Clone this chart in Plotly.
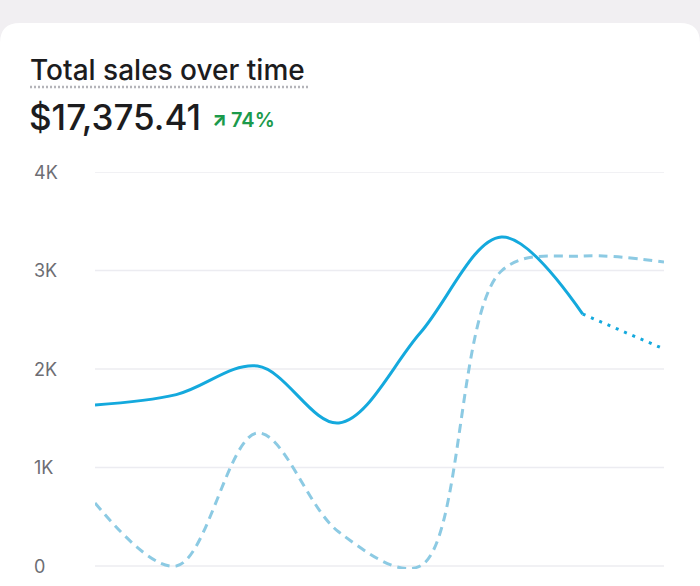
import plotly.graph_objects as go

# ---- data ----
periods = ["P1", "P2", "P3", "P4", "P5", "P6", "P7", "P8"]
current_sales = [1635, 1740, 2030, 1452, 2365, 3340, 2558, 2203]   # last point is projected (dotted)
previous_sales = [640, 0, 1350, 345, 0, 2995, 3147, 3086]
y_tickvals = [0, 1000, 2000, 3000, 4000]
y_ticktext = ["0", "1K", "2K", "3K", "4K"]
title_text = "Total sales over time"
total_text = "$17,375.41"
change_text = "74%"

W, H = 700, 586
ML, MR, MT, MB = 95, 36, 172, 17
Y_MIN, Y_MAX = -30.5, 4000
PW, PH = W - ML - MR, H - MT - MB


def px(x):
    return (x - ML) / PW


def py(y):
    return (H - MB - y) / PH


SOLID = "#14a9dd"
DASHED = "#8ccae3"
FONT = "Inter, Roboto, sans-serif"

n_solid = len(current_sales) - 1

fig = go.Figure()
# previous period (dashed)
fig.add_trace(go.Scatter(
    x=periods, y=previous_sales, mode="lines",
    line=dict(color=DASHED, width=3, dash="9px,6px", shape="spline"),
    hoverinfo="skip", showlegend=False))
# current period projected part (dotted)
fig.add_trace(go.Scatter(
    x=periods[n_solid - 1:], y=current_sales[n_solid - 1:], mode="lines",
    line=dict(color=SOLID, width=3, dash="3px,6px", shape="spline"),
    hoverinfo="skip", showlegend=False))
# current period solid part
fig.add_trace(go.Scatter(
    x=periods[:n_solid], y=current_sales[:n_solid], mode="lines",
    line=dict(color=SOLID, width=3, shape="spline"),
    hoverinfo="skip", showlegend=False))

# card background
r = 20
x0, x1, y0 = 0, 700, 23
card = (f"M {px(x0)},{py(y0 + r)} Q {px(x0)},{py(y0)} {px(x0 + r)},{py(y0)} "
        f"L {px(x1 - r)},{py(y0)} Q {px(x1)},{py(y0)} {px(x1)},{py(y0 + r)} "
        f"L {px(x1)},{py(H + 10)} L {px(x0)},{py(H + 10)} Z")
shapes = [
    dict(type="path", path=card, xref="paper", yref="paper",
         fillcolor="white", line=dict(width=0), layer="below"),
    dict(type="line", xref="paper", yref="paper",
         x0=px(30), x1=px(308), y0=py(87), y1=py(87),
         line=dict(color="#b4b4b9", width=2.5, dash="2px,2px")),
]
# horizontal gridlines at the tick values
for v in y_tickvals:
    shapes.append(dict(type="line", xref="paper", yref="y", x0=0, x1=1, y0=v, y1=v,
                       line=dict(color="#ececf1", width=1.5), layer="below"))

annotations = []
for v, t in zip(y_tickvals, y_ticktext):
    annotations.append(dict(x=px(32), xref="paper", y=v, yref="y", text=t,
                            xanchor="left", yanchor="middle", showarrow=False,
                            font=dict(family=FONT, size=18, color="#6d6d73")))
annotations += [
    dict(x=px(28), y=py(70), xref="paper", yref="paper", text=title_text,
         xanchor="left", yanchor="middle", showarrow=False,
         font=dict(family=FONT, size=28, color="#1c1c1e", weight=500)),
    dict(x=px(27), y=py(117), xref="paper", yref="paper", text=total_text,
         xanchor="left", yanchor="middle", showarrow=False,
         font=dict(family=FONT, size=35, color="#1c1c1e", weight=500)),
    dict(x=px(210), y=py(120), xref="paper", yref="paper", text="↗",
         xanchor="left", yanchor="middle", showarrow=False,
         font=dict(family=FONT, size=19, color="#1b9a4b", weight=800)),
    dict(x=px(229), y=py(120), xref="paper", yref="paper", text=change_text,
         xanchor="left", yanchor="middle", showarrow=False,
         font=dict(family=FONT, size=20, color="#1b9a4b", weight=600)),
]

fig.update_layout(
    width=W, height=H,
    margin=dict(l=ML, r=MR, t=MT, b=MB),
    paper_bgcolor="#f1eff2", plot_bgcolor="rgba(0,0,0,0)",
    shapes=shapes, annotations=annotations,
    xaxis=dict(visible=False, range=[0, len(periods) - 1], fixedrange=True),
    yaxis=dict(range=[Y_MIN, Y_MAX], tickvals=y_tickvals, showticklabels=False,
               showgrid=False, zeroline=False, showline=False, fixedrange=True),
    font=dict(family=FONT),
)

fig.write_html("out.html", config={"displayModeBar": False},
               post_script="document.body.style.margin='0';document.body.style.background='#f1eff2';")
